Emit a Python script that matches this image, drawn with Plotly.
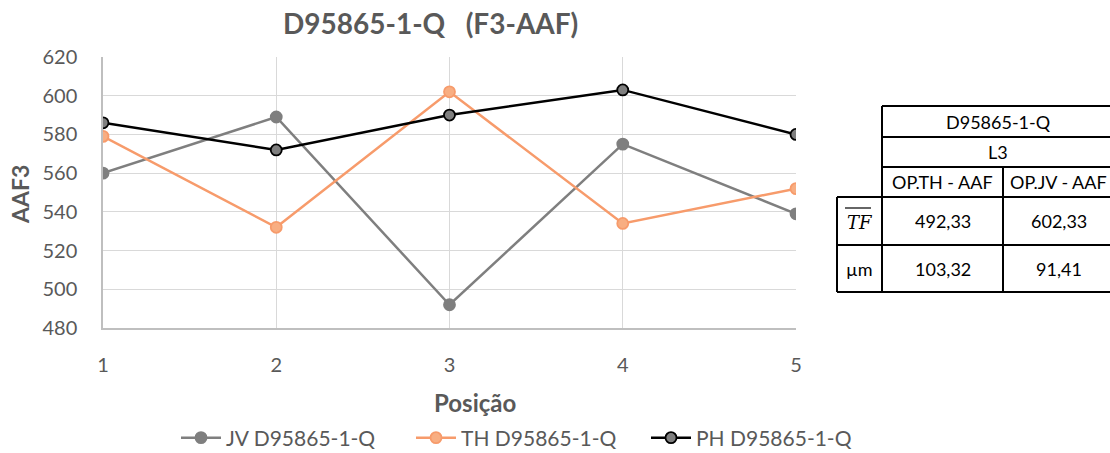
import plotly.graph_objects as go

# Measured positions along the part
posicao = [1, 2, 3, 4, 5]
jv_vals = [560, 589, 492, 575, 539]
th_vals = [579, 532, 602, 534, 552]
ph_vals = [586, 572, 590, 603, 580]

y_ticks = [480, 500, 520, 540, 560, 580, 600, 620]

# Summary table contents
tbl_title = "D95865-1-Q"
tbl_line = "L3"
tbl_cols = ["OP.TH - AAF", "OP.JV - AAF"]
tbl_rows = ["TF", "µm"]
tbl_vals = [["492,33", "602,33"], ["103,32", "91,41"]]

FONT = "Lato"
TXT = "#595959"
W, H = 1110, 453
PL, PR, PT, PB = 103, 796, 57, 328


def px(x):
    return (x - PL) / (PR - PL)


def py(y):
    return (PB - y) / (PB - PT)


fig = go.Figure()
series = [
    ("JV D95865-1-Q", jv_vals, "#7F7F7F", "#7F7F7F", "#7F7F7F", "legend", 176),
    ("TH D95865-1-Q", th_vals, "#F79B6B", "#F8AE82", "#F79B6B", "legend2", 411),
    ("PH D95865-1-Q", ph_vals, "#000000", "#7F7F7F", "#000000", "legend3", 646),
]
legends = {}
for name, vals, lc, mfill, mline, leg, lx in series:
    fig.add_trace(go.Scatter(
        x=posicao, y=vals, name=name, mode="lines+markers", legend=leg,
        line=dict(color=lc, width=2.5),
        marker=dict(size=11, color=mfill, line=dict(color=mline, width=1.8)),
    ))
    legends[leg] = dict(
        orientation="h", xref="container", yref="container",
        x=lx / W, y=1 - 438 / H, xanchor="left", yanchor="middle",
        itemwidth=40, font=dict(size=21, color=TXT), bgcolor="rgba(0,0,0,0)",
    )

fig.update_layout(
    width=W, height=H,
    margin=dict(l=PL, r=W - PR, t=PT, b=H - PB, autoexpand=False),
    paper_bgcolor="white", plot_bgcolor="white",
    font=dict(family=FONT, color=TXT, size=18),
    showlegend=True,
    **legends,
)
fig.update_xaxes(
    range=[1, 5], tickvals=posicao, showgrid=True, gridcolor="#D9D9D9", gridwidth=1.3,
    showline=True, linecolor="#BFBFBF", linewidth=1.5, zeroline=False,
    ticks="", ticklabelstandoff=18, tickfont=dict(size=20, color=TXT),
)
fig.update_yaxes(
    range=[480, 620], tickvals=y_ticks, showgrid=True, gridcolor="#D9D9D9", gridwidth=1.3,
    showline=True, linecolor="#BFBFBF", linewidth=1.5, zeroline=False,
    ticks="", ticklabelstandoff=20, tickfont=dict(size=20, color=TXT),
)

fig.add_annotation(text="<b>D95865-1-Q   (F3-AAF)</b>", x=px(430), y=py(23),
                   xref="paper", yref="paper", showarrow=False,
                   font=dict(size=28, color=TXT, family=FONT), xanchor="center", yanchor="middle")
fig.add_annotation(text="<b>Posição</b>", x=px(475), y=py(402),
                   xref="paper", yref="paper", showarrow=False,
                   font=dict(size=24, color=TXT, family=FONT), xanchor="center", yanchor="middle")
fig.add_annotation(text="<b>AAF3</b>", x=px(20), y=py(195), textangle=-90,
                   xref="paper", yref="paper", showarrow=False,
                   font=dict(size=23, color=TXT, family=FONT), xanchor="center", yanchor="middle")

# Table grid
X0, X1, X2, X3 = 837, 882, 1003, 1115
R = [106, 137, 167, 197, 245, 292]


def seg(xa, xb, ya, yb, width=2):
    fig.add_shape(type="line", xref="paper", yref="paper", x0=px(xa), x1=px(xb),
                  y0=py(ya), y1=py(yb), line=dict(color="black", width=width))


for k, r in enumerate(R):
    seg(X1 if k < 3 else X0, X3, r, r)
seg(X0, X0, R[3], R[5])
seg(X1, X1, R[0], R[5])
seg(X2, X2, R[2], R[5])
# overline over TF
seg(845, 871, 208, 208, width=1.2)


def cell(text, x, y, family=FONT, size=18):
    fig.add_annotation(text=text, x=px(x), y=py(y), xref="paper", yref="paper",
                       showarrow=False, xanchor="center", yanchor="middle",
                       font=dict(size=size, color="black", family=family))


cmid = [(X1 + X2) / 2, (X2 + 1114) / 2]
cell(tbl_title, (X1 + 1114) / 2, (R[0] + R[1]) / 2)
cell(tbl_line, (X1 + 1114) / 2, (R[1] + R[2]) / 2)
for j, c in enumerate(tbl_cols):
    cell(c, cmid[j], (R[2] + R[3]) / 2)
rmid = [(R[3] + R[4]) / 2, (R[4] + R[5]) / 2]
cell("<i>" + tbl_rows[0] + "</i>", (X0 + X1) / 2, rmid[0] + 1, family="DejaVu Serif", size=18)
cell(tbl_rows[1], (X0 + X1) / 2, rmid[1])
for i in range(2):
    for j in range(2):
        cell(tbl_vals[i][j], cmid[j], rmid[i])

fig.write_html("out.html")
